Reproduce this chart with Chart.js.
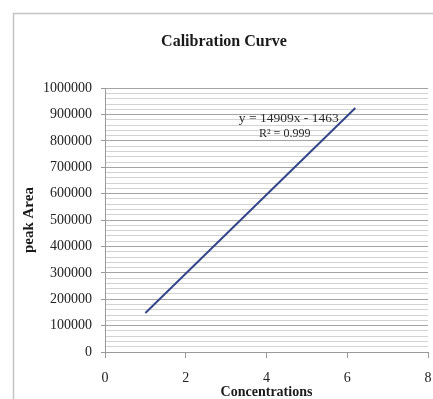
<!DOCTYPE html>
<html>
<head>
<meta charset="utf-8">
<script src="https://cdn.jsdelivr.net/npm/chart.js@4/dist/chart.umd.min.js"></script>
<style>
  html, body { margin: 0; padding: 0; background: #ffffff; }
  #c { display: block; }
</style>
</head>
<body>
<canvas id="c" width="433" height="399"></canvas>
<script>
// ---- data ----
const concentrations = [1, 6.2];
const peakAreas = [147600, 925000];
const xTicks = [0, 2, 4, 6, 8];
const yMajorStep = 100000;
const yMinorStep = 20000;
const yMax = 1000000;
const chartTitle = 'Calibration Curve';
const xTitle = 'Concentrations';
const yTitle = 'peak Area';
const equationText = 'y = 14909x - 1463';
const r2Text = 'R² = 0.999';

const serif = '"Liberation Serif", "Times New Roman", serif';

const points = concentrations.map((x, i) => ({ x: x, y: peakAreas[i] }));

const frame = {
  id: 'frame',
  beforeDraw(chart) {
    const ctx = chart.ctx;
    ctx.save();
    ctx.fillStyle = '#ffffff';
    ctx.fillRect(0, 0, chart.width, chart.height);
    ctx.strokeStyle = '#c4c4c4';
    ctx.lineWidth = 1.5;
    ctx.strokeRect(13.5, 13.5, chart.width + 40, chart.height + 40);
    ctx.restore();
  }
};

const equationLabel = {
  id: 'equationLabel',
  afterDatasetsDraw(chart) {
    const ctx = chart.ctx;
    const xs = chart.scales.x, ys = chart.scales.y;
    const cx = xs.getPixelForValue(4.55);
    const cy = ys.getPixelForValue(887000);
    ctx.save();
    ctx.fillStyle = '#2a2a2a';
    ctx.textAlign = 'center';
    ctx.textBaseline = 'middle';
    ctx.font = '13.5px ' + serif;
    ctx.fillText(equationText, cx, cy);
    ctx.font = '12px ' + serif;
    ctx.fillText(r2Text, cx - 4, cy + 16);
    ctx.restore();
  }
};

new Chart(document.getElementById('c'), {
  type: 'scatter',
  data: {
    datasets: [{
      data: points,
      showLine: true,
      borderColor: '#34468a',
      borderWidth: 2,
      pointRadius: 0,
      pointHoverRadius: 0,
      fill: false
    }]
  },
  options: {
    responsive: false,
    animation: false,
    devicePixelRatio: 1,
    layout: { padding: { left: 20, right: 5, top: 0, bottom: 0 } },
    plugins: {
      legend: { display: false },
      tooltip: { enabled: false },
      title: {
        display: true,
        text: chartTitle,
        color: '#1a1a1a',
        font: { family: serif, size: 16, weight: 'bold', lineHeight: 1.2 },
        padding: { top: 32, bottom: 37 }
      }
    },
    scales: {
      x: {
        type: 'linear',
        min: 0,
        max: 8,
        afterBuildTicks(scale) { scale.ticks = xTicks.map(v => ({ value: v })); },
        afterFit(scale) { scale.height = 47; scale.paddingRight = 0; scale.paddingLeft = 0; },
        grid: {
          drawOnChartArea: false,
          drawTicks: true,
          tickLength: 6,
          tickColor: '#9a9a9a'
        },
        border: { display: true, color: '#9a9a9a', width: 1 },
        ticks: {
          padding: 12,
          color: '#222222',
          font: { family: serif, size: 14 }
        },
        title: {
          display: true,
          text: xTitle,
          color: '#1a1a1a',
          font: { family: serif, size: 14, weight: 'bold', lineHeight: 1 },
          padding: { top: 0, bottom: 0 }
        }
      },
      y: {
        type: 'linear',
        min: 0,
        max: yMax,
        afterFit(scale) { scale.width = 85; },
        ticks: {
          stepSize: yMinorStep,
          autoSkip: false,
          padding: 9,
          color: '#222222',
          font: { family: serif, size: 14 },
          callback(v) { return (v % yMajorStep === 0) ? String(v) : ''; }
        },
        grid: {
          drawOnChartArea: true,
          tickLength: 4,
          color(c) { return (c.tick && c.tick.value % yMajorStep === 0) ? '#a4a4a4' : '#d2d2d2'; },
          tickColor(c) { return (c.tick && c.tick.value % yMajorStep === 0) ? '#9a9a9a' : 'rgba(0,0,0,0)'; },
          lineWidth: 1
        },
        border: { display: true, color: '#9a9a9a', width: 1 },
        title: {
          display: true,
          text: yTitle,
          color: '#1a1a1a',
          font: { family: serif, size: 15, weight: 'bold', lineHeight: 1 },
          padding: { top: 2, bottom: 0 }
        }
      }
    }
  },
  plugins: [frame, equationLabel]
});
</script>
</body>
</html>
